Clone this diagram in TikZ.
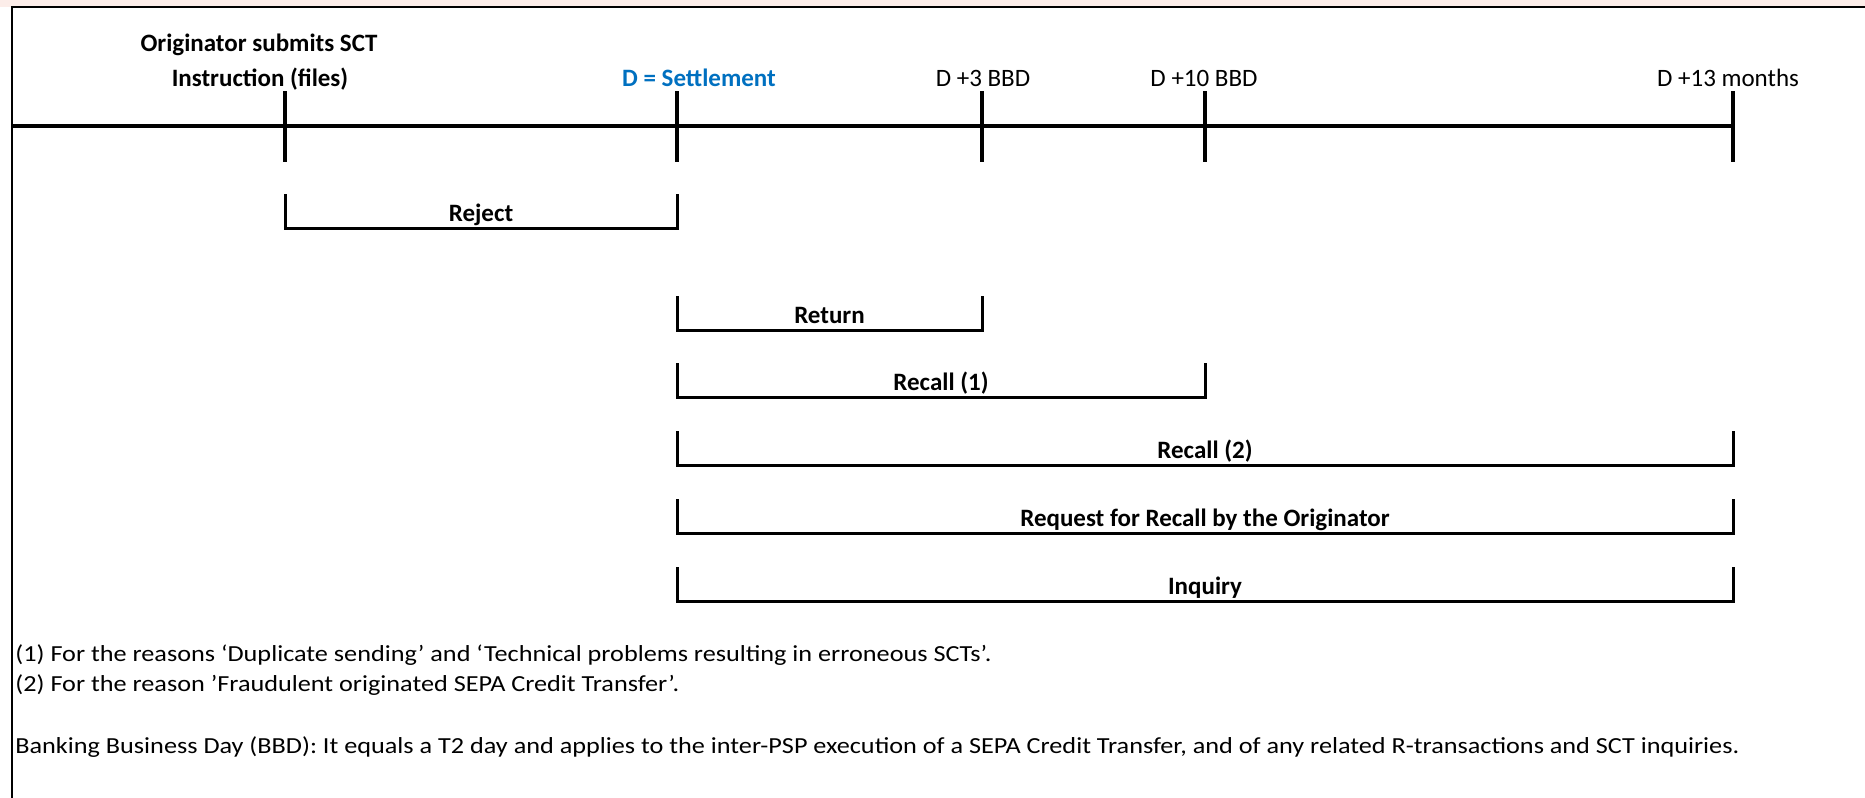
\documentclass[tikz,border=0pt]{standalone}
\usepackage{fontspec}
\setmainfont{Carlito}
\newfontfamily\notefont[FakeStretch=1.14]{Carlito}
\definecolor{pinkbg}{HTML}{FCEDE9}
\definecolor{settleblue}{HTML}{0070C0}
\begin{document}
\begin{tikzpicture}[x=0.5pt,y=-0.5pt,
  lbl/.style={inner sep=0pt, anchor=base, font=\fontsize{12.5}{15}\selectfont},
  blbl/.style={inner sep=0pt, anchor=base, font=\fontsize{12.5}{15}\selectfont\bfseries},
  note/.style={inner sep=0pt, anchor=base west, font=\notefont\fontsize{11.5}{14}\selectfont},
  axisline/.style={line width=2pt},
  tickmark/.style={line width=2pt},
  brk/.style={line width=1.5pt, line join=miter},
  frameline/.style={line width=1.2pt}]
\useasboundingbox (0,0) rectangle (1865,798);
\fill[pinkbg] (0,0) rectangle (1865,7);
\coordinate (fb) at (12,798);
\coordinate (fc) at (12,7);
\coordinate (fr) at (1865,7);
\draw[frameline] (fb) -- (fc) -- (fr);

% timeline
\coordinate (ax0) at (12,126);
\coordinate (ax1) at (1733,126);
\draw[axisline] (ax0) -- (ax1);
\foreach \n/\x in {t1/285,t2/677,t3/982,t4/1205,t5/1733}{
  \coordinate (\n top) at (\x,91);
  \coordinate (\n bot) at (\x,162);
  \draw[tickmark] (\n top) -- (\n bot);
}

% top labels
\node[blbl] (orig1) at (259,51) {Originator submits SCT};
\node[blbl] (orig2) at (260,86) {Instruction (files)};
\node[blbl, text=settleblue] (settle) at (699,86) {D = Settlement};
\node[lbl] (d3) at (983,86) {D +3 BBD};
\node[lbl] (d10) at (1204,86) {D +10 BBD};
\node[lbl] (d13) at (1728,86) {D +13 months};

% brackets
\foreach \n/\a/\b/\yb/\txt in {
  rej/285/677/228/Reject,
  ret/677/982/330/Return,
  rc1/677/1205/397/Recall (1),
  rc2/677/1733/465/Recall (2),
  rfr/677/1733/533/Request for Recall by the Originator,
  inq/677/1733/601/Inquiry}{
  \coordinate (\n L) at (\a,\yb-34);
  \coordinate (\n R) at (\b,\yb-34);
  \coordinate (\n B) at (\b,\yb);
  \draw[brk] (\n L) |- (\n B) -- (\n R);
  \node[blbl] (\n txt) at ({(\a+\b)/2},\yb-7) {\txt};
}

% notes
\node[note] (n1) at (15,661) {(1) For the reasons ‘Duplicate sending’ and ‘Technical problems resulting in erroneous SCTs’.};
\node[note] (n2) at (15,691) {(2) For the reason ’Fraudulent originated SEPA Credit Transfer’.};
\node[note] (n3) at (15,753) {Banking Business Day (BBD): It equals a T2 day and applies to the inter-PSP execution of a SEPA Credit Transfer, and of any related R-transactions and SCT inquiries.};
\end{tikzpicture}
\end{document}
